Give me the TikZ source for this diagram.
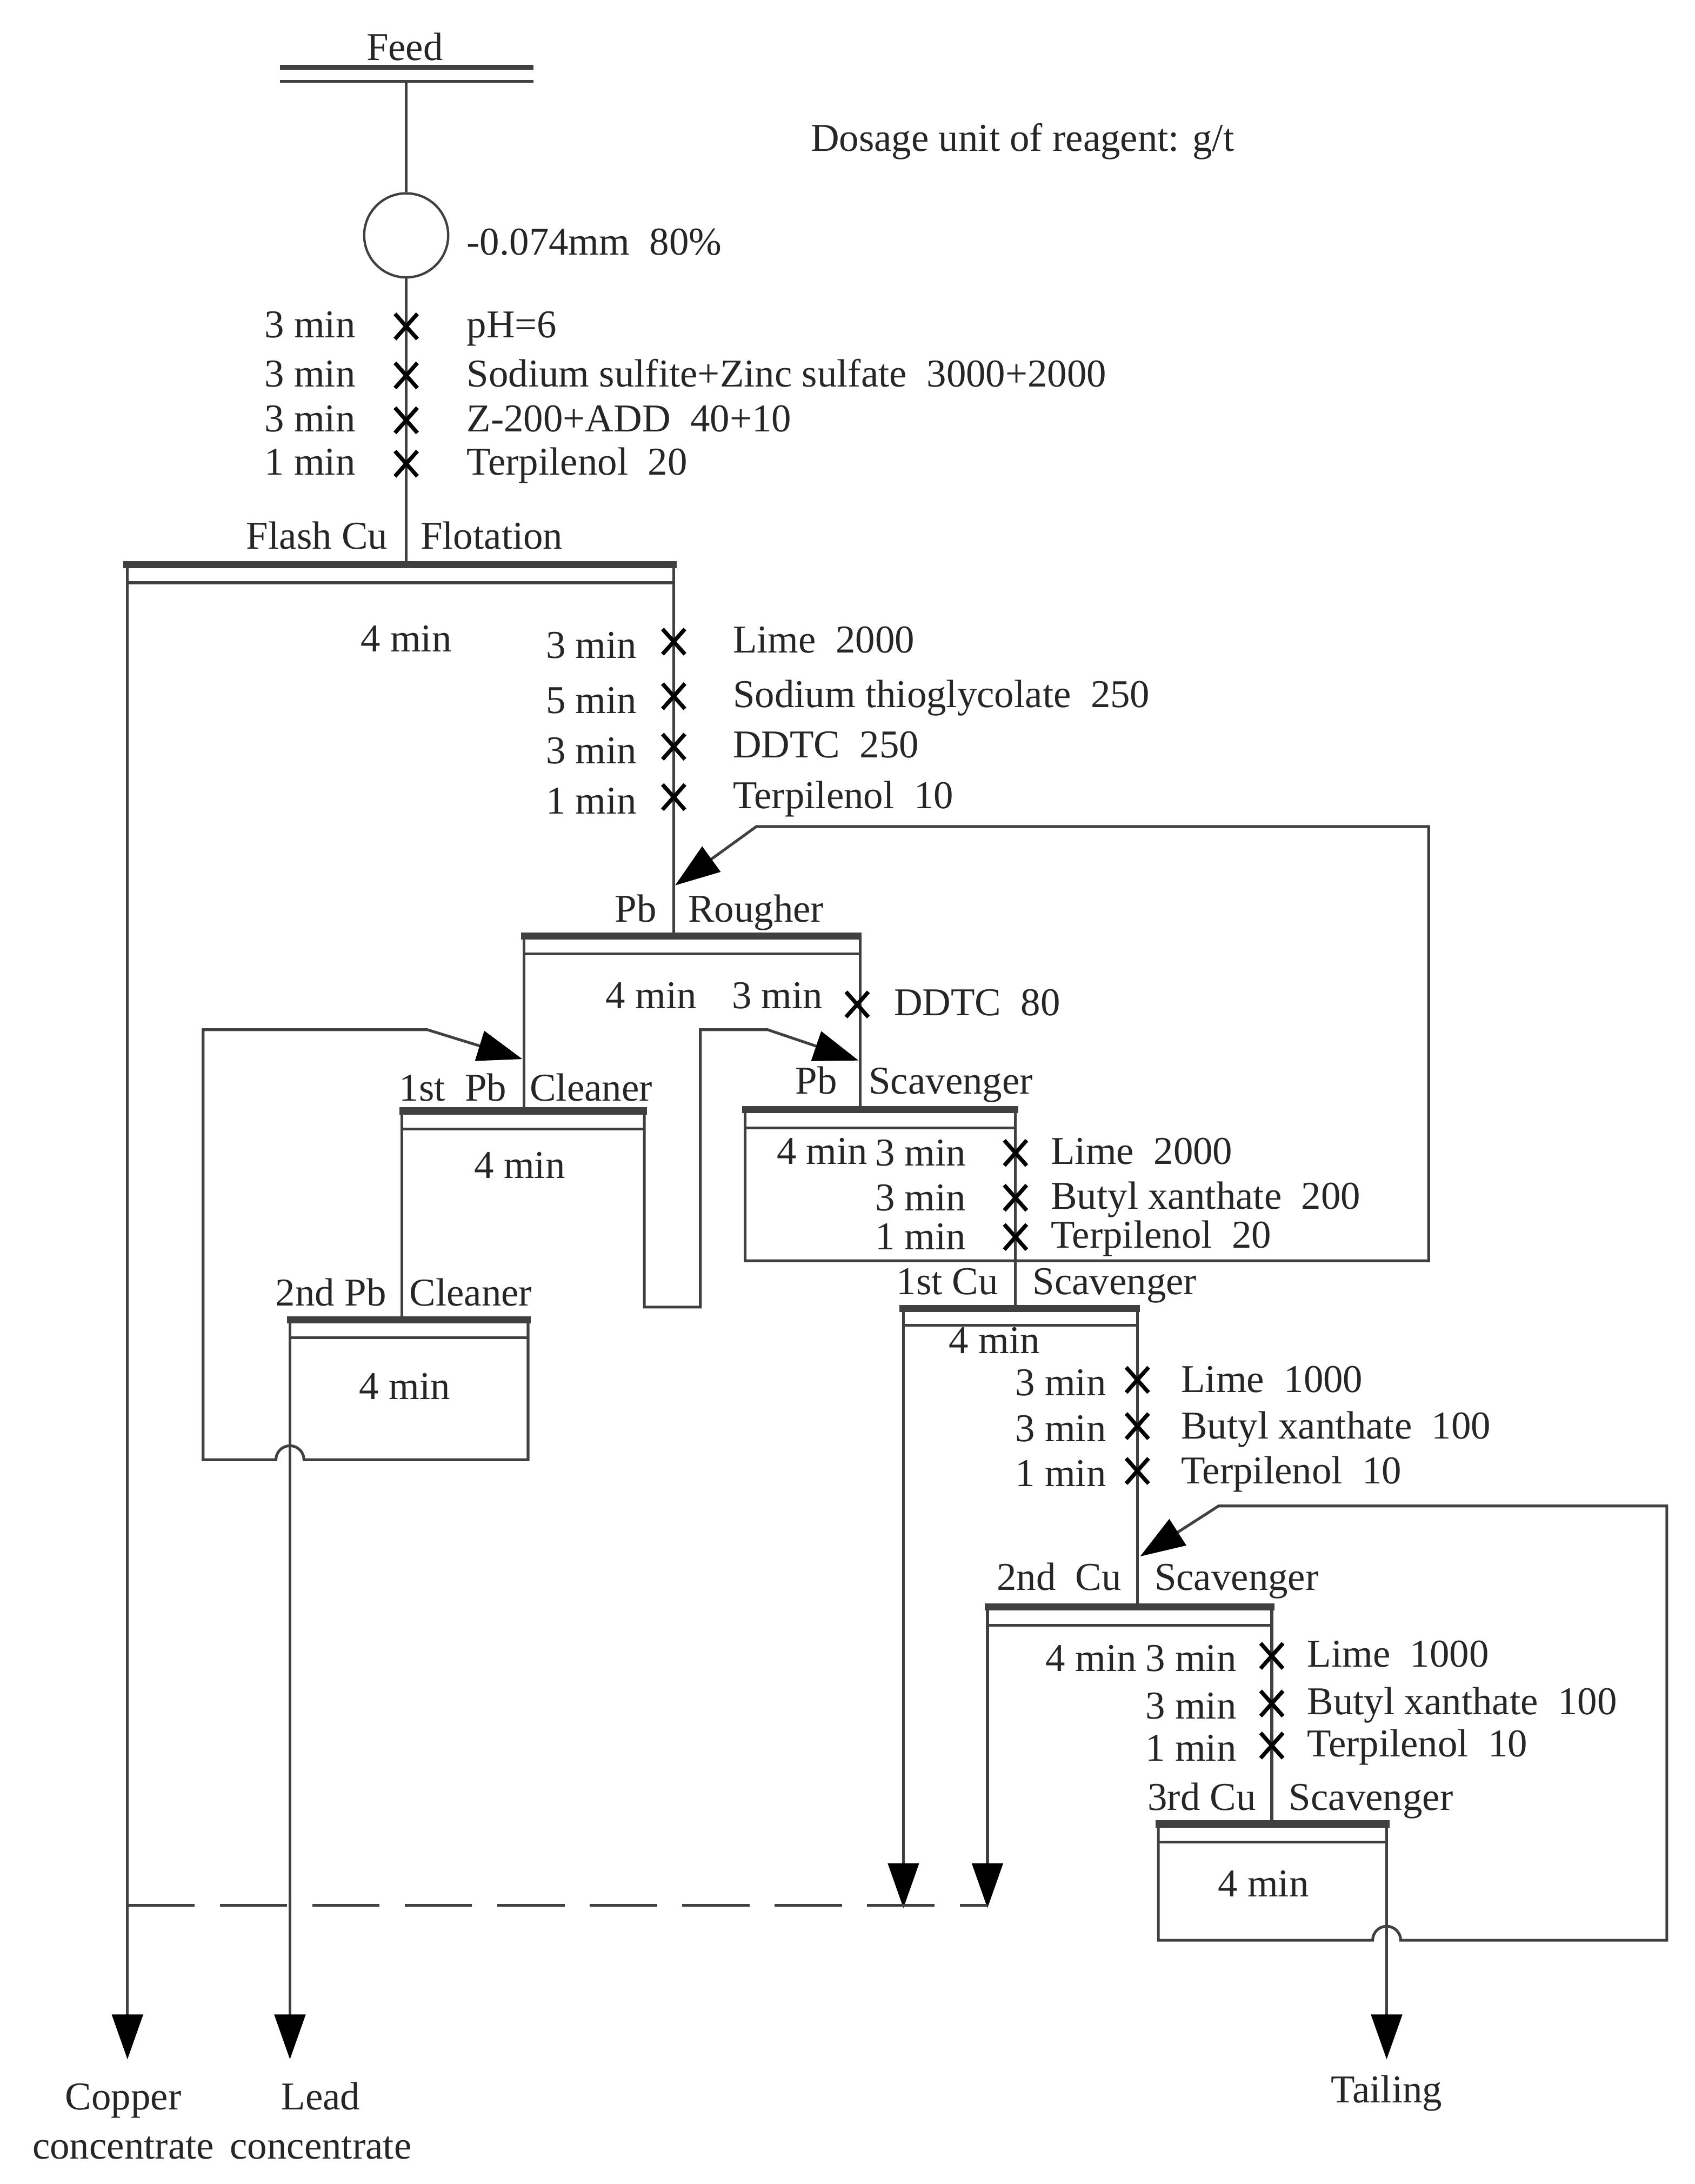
\documentclass[tikz,border=0pt]{standalone}
\usepackage{fontspec}
\setmainfont{Liberation Serif}
\usetikzlibrary{arrows.meta}
\definecolor{ln}{HTML}{404040}
\begin{document}
\begin{tikzpicture}[x=0.025cm,y=-0.025cm,
  every node/.style={font=\fontsize{20}{23}\selectfont,text=black!85,inner sep=0pt},
  l/.style={anchor=base west}, r/.style={anchor=base east}, c/.style={anchor=base},
  w/.style={draw=ln,line width=1.4pt},
  bar/.style={draw=ln,line width=3.6pt},
  arr/.style={w,-{Triangle[length=0.8cm,width=0.55cm,color=black]}},
  xm/.pic={\draw[black,line width=2pt] (-8,-9)--(8,9) (-8,9)--(8,-9);}]
\useasboundingbox (0,0) rectangle (1210,1559);
% Feed
\node[c] (feed) at (289,43) {Feed};
\draw[bar,line width=2.4pt] (200,48)--(381,48); \draw[w] (200,58)--(381,58);
\node[draw=ln,line width=1.2pt,circle,minimum size=60*0.025cm] (mill) at (290,168) {};
\draw[w] (290,58)--(mill.north);
\node[l] at (333,182) {-0.074mm\ \ 80\%};
\node[c] at (730,108) {Dosage unit of reagent: g/t};
\draw[w] (mill.south)--(290,403);
\foreach \y/\t/\s in {233/3 min/pH=6,268/3 min/Sodium sulfite+Zinc sulfate\ \ 3000+2000,300/3 min/Z-200+ADD\ \ 40+10,331/1 min/Terpilenol\ \ 20}{
  \pic at (290,\y) {xm}; \node[r] at (254,\y+8) {\t}; \node[l] at (333,\y+8) {\s};}
% Flash Cu
\node[r] at (277,392) {Flash Cu}; \node[l] at (300,392) {Flotation};
\draw[bar] (88,403)--(483,403); \draw[w] (91,416)--(481,416);
\node[c] at (290,465) {4 min};
\coordinate (cu) at (91,1470); \coordinate (pb) at (207,1470); \coordinate (tl) at (990,1470);
\draw[arr] (91,403)--(cu);
\draw[w] (481,403)--(481,668);
\foreach \y/\t/\s in {458/3 min/Lime\ \ 2000,497/5 min/Sodium thioglycolate\ \ 250,533/3 min/DDTC\ \ 250,569/1 min/Terpilenol\ \ 10}{
  \pic at (481,\y) {xm}; \node[r] at (455,\y+12) {\t}; \node[l] at (523,\y+8) {\s};}
% recycle from Pb scavenger
\coordinate (rt) at (482,632);
\draw[arr] (532,792)--(532,900)--(1020,900)--(1020,590)--(540,590)--(rt);
% Pb rougher
\node[r] at (469,658) {Pb}; \node[l] at (491,658) {Rougher};
\draw[bar] (372,668)--(615,668); \draw[w] (374,681)--(613,681);
\draw[w] (374,668)--(374,793);
\draw[w] (614,668)--(614,792);
\node[c] at (465,720) {4 min}; \node[c] at (555,720) {3 min};
\pic at (612,717) {xm}; \node[l] at (638,725) {DDTC\ \ 80};
% 2nd cleaner recycle
\coordinate (c1t) at (373,756);
\draw[arr] (377,942)--(377,1042)--(217,1042) arc[start angle=0,end angle=-180,radius=10]--(145,1042)--(145,735)--(305,735)--(c1t);
% 1st cleaner
\node[r] at (362,786) {1st\ \ Pb}; \node[l] at (378,786) {Cleaner};
\draw[bar] (285,793)--(462,793); \draw[w] (287,806)--(460,806);
\node[c] at (371,841) {4 min};
\draw[w] (287,793)--(287,942);
\coordinate (sct) at (613,757);
\draw[arr] (460,793)--(460,933)--(500,933)--(500,735)--(548,735)--(sct);
% 2nd cleaner
\node[r] at (276,932) {2nd Pb}; \node[l] at (292,932) {Cleaner};
\draw[bar] (205,942)--(379,942); \draw[w] (207,955)--(377,955);
\node[c] at (289,999) {4 min};
\draw[arr] (207,942)--(pb);
% Pb scavenger
\node[r] at (598,781) {Pb}; \node[l] at (620,781) {Scavenger};
\draw[bar] (530,792)--(727,792); \draw[w] (532,805)--(725,805);
\node[c] at (587,831) {4 min};
\draw[w] (725,792)--(725,934);
\foreach \y/\t/\s in {823/3 min/Lime\ \ 2000,855/3 min/Butyl xanthate\ \ 200,883/1 min/Terpilenol\ \ 20}{
  \pic at (725,\y) {xm}; \node[r] at (690,\y+9) {\t}; \node[l] at (750,\y+8) {\s};}
% 1st Cu scavenger
\node[r] at (713,924) {1st Cu}; \node[l] at (737,924) {Scavenger};
\draw[bar] (642,934)--(814,934); \draw[w] (645,946)--(812,946);
\node[c] at (710,966) {4 min};
\coordinate (a1) at (645,1362); \coordinate (a2) at (705,1362);
\draw[arr] (645,934)--(a1);
\draw[w] (812,934)--(812,1147);
\foreach \y/\t/\s in {985/3 min/Lime\ \ 1000,1018/3 min/Butyl xanthate\ \ 100,1050/1 min/Terpilenol\ \ 10}{
  \pic at (812,\y) {xm}; \node[r] at (790,\y+11) {\t}; \node[l] at (843,\y+9) {\s};}
% recycle 3rd Cu
\coordinate (c2t) at (814,1111);
\draw[arr] (827,1302)--(827,1385)--(980,1385) arc[start angle=180,end angle=360,radius=10]--(1190,1385)--(1190,1075)--(870,1075)--(c2t);
% 2nd Cu scavenger
\node[r] at (801,1135) {2nd\ \ Cu}; \node[l] at (824,1135) {Scavenger};
\draw[bar] (703,1147)--(910,1147); \draw[w] (705,1160)--(908,1160);
\draw[arr] (705,1147)--(a2);
\draw[w] (908,1147)--(908,1302);
\node[c] at (779,1193) {4 min};
\foreach \y/\t/\s in {1182/3 min/Lime\ \ 1000,1216/3 min/Butyl xanthate\ \ 100,1246/1 min/Terpilenol\ \ 10}{
  \pic at (908,\y) {xm}; \node[r] at (883,\y+11) {\t}; \node[l] at (933,\y+8) {\s};}
% 3rd Cu scavenger
\node[r] at (897,1292) {3rd Cu}; \node[l] at (920,1292) {Scavenger};
\draw[bar] (825,1302)--(992,1302); \draw[w] (827,1315)--(990,1315);
\node[c] at (902,1354) {4 min};
\draw[arr] (990,1302)--(tl);
% dashed
\draw[w,dash pattern=on 1.2cm off 0.45cm] (91,1360)--(705,1360);
% outputs
\node[c] at (88,1506) {Copper}; \node[c] at (88,1541) {concentrate};
\node[c] at (229,1506) {Lead}; \node[c] at (229,1541) {concentrate};
\node[c] at (990,1501) {Tailing};
\end{tikzpicture}
\end{document}
